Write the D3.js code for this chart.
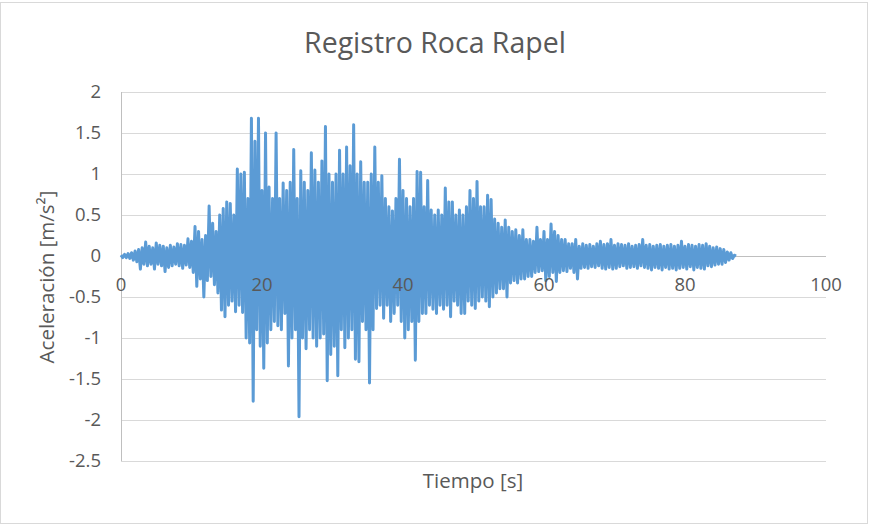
<!DOCTYPE html>
<html>
<head>
<meta charset="utf-8">
<script src="https://cdn.jsdelivr.net/npm/d3@7"></script>
<style>
  html, body { margin: 0; padding: 0; background: #fff; }
  svg { display: block; }
</style>
</head>
<body>
<div id="chart"></div>
<script>
// acceleration samples, one every 0.25 s from t = 0
const dt = 0.25
const accel = [
  0.01,-0.02,0.02,-0.02,   0.03,-0.03,0.04,-0.05,   0.06,-0.07,0.08,-0.16,   0.1,-0.1,0.17,-0.12,
  0.12,-0.1,0.1,-0.16,     0.16,-0.1,0.13,-0.12,    0.12,-0.19,0.1,-0.14,    0.13,-0.12,0.11,-0.1,
  0.15,-0.12,0.14,-0.15,   0.13,-0.11,0.21,-0.14,   0.18,-0.2,0.36,-0.37,    0.3,-0.28,0.2,-0.5,
  0.25,-0.3,0.61,-0.25,    0.4,-0.35,0.3,-0.45,     0.5,-0.66,0.58,-0.74,    0.66,-0.6,0.64,-0.55,
  0.5,-0.68,1.06,-0.6,     1.0,-0.69,1.02,-1.0,     0.7,-1.06,1.68,-1.77,    1.4,-0.9,1.68,-1.1,
  0.8,-1.37,1.5,-1.06,     0.84,-0.9,0.7,-0.8,      1.5,-0.85,0.7,-0.9,      0.89,-0.7,0.8,-1.34,
  0.9,-1.0,1.3,-0.9,       0.7,-1.96,1.04,-1.0,     0.9,-1.13,0.8,-0.9,      1.26,-1.0,1.05,-1.1,
  0.9,-1.0,1.16,-0.95,     1.58,-1.52,1.0,-1.2,     0.9,-1.1,1.0,-1.46,      1.29,-0.9,1.0,-1.12,
  1.33,-1.0,1.1,-0.9,      1.6,-1.26,1.0,-1.29,     1.15,-0.8,0.9,-0.9,      0.9,-1.55,1.0,-0.9,
  1.33,-0.64,0.9,-0.6,     0.98,-0.76,0.7,-0.6,     0.6,-0.8,0.55,-0.7,      0.7,-0.6,1.18,-0.8,
  0.8,-1.0,0.7,-0.9,       0.6,-0.8,0.7,-1.27,      1.03,-0.8,1.02,-0.7,     0.6,-0.7,0.92,-0.6,
  0.56,-0.65,0.5,-0.7,     0.56,-0.6,0.5,-0.65,     0.83,-0.6,0.66,-0.74,    0.66,-0.55,0.5,-0.6,
  0.56,-0.7,0.5,-0.7,      0.6,-0.55,0.8,-0.6,      0.7,-0.64,0.91,-0.55,    0.6,-0.5,0.6,-0.55,
  0.74,-0.62,0.69,-0.5,    0.45,-0.45,0.4,-0.4,     0.35,-0.4,0.44,-0.5,     0.35,-0.33,0.3,-0.3,
  0.32,-0.33,0.25,-0.28,   0.32,-0.28,0.2,-0.25,    0.2,-0.25,0.18,-0.2,     0.35,-0.19,0.2,-0.18,
  0.3,-0.3,0.2,-0.25,      0.39,-0.2,0.3,-0.31,     0.25,-0.2,0.2,-0.18,     0.2,-0.19,0.15,-0.15,
  0.15,-0.2,0.2,-0.28,     0.12,-0.15,0.15,-0.14,   0.13,-0.15,0.14,-0.13,   0.12,-0.14,0.15,-0.12,
  0.18,-0.15,0.14,-0.16,   0.15,-0.14,0.2,-0.16,    0.13,-0.15,0.15,-0.13,   0.14,-0.12,0.13,-0.15,
  0.15,-0.14,0.12,-0.13,   0.13,-0.15,0.14,-0.12,   0.2,-0.14,0.13,-0.15,    0.14,-0.17,0.12,-0.14,
  0.13,-0.15,0.14,-0.17,   0.12,-0.14,0.13,-0.16,   0.14,-0.15,0.12,-0.17,   0.13,-0.15,0.18,-0.14,
  0.12,-0.16,0.14,-0.13,   0.13,-0.17,0.12,-0.14,   0.14,-0.15,0.13,-0.16,   0.15,-0.12,0.12,-0.13,
  0.1,-0.11,0.11,-0.1,     0.09,-0.1,0.08,-0.08,    0.05,-0.05,0.04,-0.03,   0.01,0
]
const xTicks = [0, 20, 40, 60, 80, 100]
const yTicks = [2, 1.5, 1, 0.5, 0, -0.5, -1, -1.5, -2, -2.5]

const width = 869, height = 525
const plot = { left: 121, right: 826, top: 92, bottom: 461 }
const textColor = "#595959"
const font = "'Open Sans', 'Liberation Sans', sans-serif"

const x = d3.scaleLinear().domain([0, 100]).range([plot.left, plot.right])
const y = d3.scaleLinear().domain([-2.5, 2]).range([plot.bottom, plot.top])

const svg = d3.select("#chart").append("svg")
  .attr("width", width)
  .attr("height", height)

svg.append("rect")
  .attr("x", 0.5).attr("y", 2.5)
  .attr("width", width - 2).attr("height", height - 4)
  .attr("fill", "#fff")
  .attr("stroke", "#d9d9d9")

// horizontal gridlines
svg.append("g")
  .selectAll("line")
  .data(yTicks.filter(d => d != 0))
  .enter().append("line")
  .attr("x1", plot.left).attr("x2", plot.right)
  .attr("y1", d => Math.round(y(d)) + 0.5).attr("y2", d => Math.round(y(d)) + 0.5)
  .attr("stroke", "#d9d9d9")
  .attr("stroke-width", 1)

// value axis (left) and category axis crossing at zero
svg.append("line")
  .attr("x1", plot.left + 0.5).attr("x2", plot.left + 0.5)
  .attr("y1", plot.top).attr("y2", plot.bottom)
  .attr("stroke", "#bfbfbf")
svg.append("line")
  .attr("x1", plot.left).attr("x2", plot.right)
  .attr("y1", Math.round(y(0)) + 0.5).attr("y2", Math.round(y(0)) + 0.5)
  .attr("stroke", "#bfbfbf")

// y tick labels
svg.append("g")
  .selectAll("text")
  .data(yTicks)
  .enter().append("text")
  .attr("x", 101)
  .attr("y", d => y(d))
  .attr("dy", "0.35em")
  .attr("text-anchor", "end")
  .attr("font-family", font)
  .attr("font-size", 18.5)
  .attr("fill", textColor)
  .text(d => d)

// the record
const line = d3.line()
  .x((d, i) => x(i * dt))
  .y(d => y(d))

svg.append("path")
  .datum(accel)
  .attr("d", line)
  .attr("fill", "none")
  .attr("stroke", "#5b9bd5")
  .attr("stroke-width", 3)
  .attr("stroke-linejoin", "round")

// x tick labels, drawn under the zero line
svg.append("g")
  .selectAll("text")
  .data(xTicks)
  .enter().append("text")
  .attr("x", d => x(d))
  .attr("y", y(0) + 29)
  .attr("dy", "0.35em")
  .attr("text-anchor", "middle")
  .attr("font-family", font)
  .attr("font-size", 18.5)
  .attr("fill", textColor)
  .text(d => d)

svg.append("text")
  .attr("x", 435).attr("y", 53)
  .attr("text-anchor", "middle")
  .attr("font-family", font)
  .attr("font-size", 28.5)
  .attr("fill", textColor)
  .text("Registro Roca Rapel")

svg.append("text")
  .attr("x", 473).attr("y", 488)
  .attr("text-anchor", "middle")
  .attr("font-family", font)
  .attr("font-size", 20.5)
  .attr("fill", textColor)
  .text("Tiempo [s]")

svg.append("text")
  .attr("transform", "translate(47,277) rotate(-90)")
  .attr("dy", "0.35em")
  .attr("text-anchor", "middle")
  .attr("font-family", font)
  .attr("font-size", 20.5)
  .attr("fill", textColor)
  .text("Aceleración [m/s²]")
</script>
</body>
</html>
